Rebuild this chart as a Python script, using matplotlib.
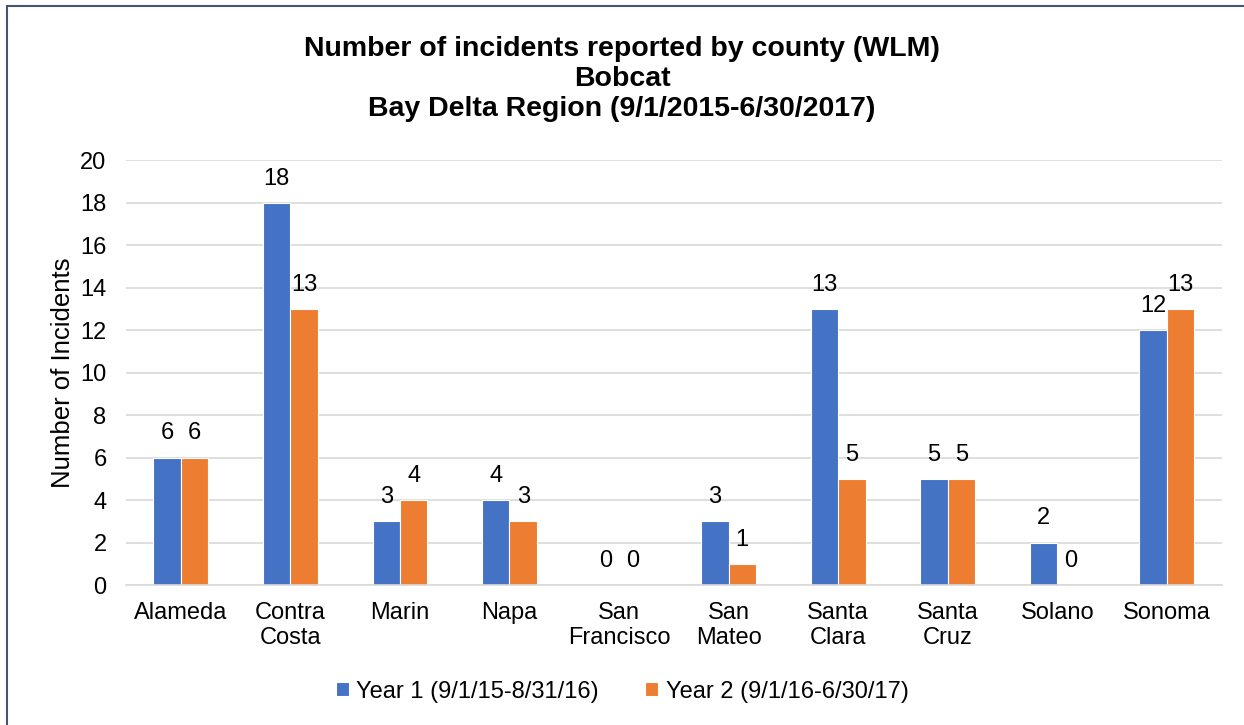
import numpy as np
import matplotlib
matplotlib.use("Agg")
import matplotlib.pyplot as plt
from matplotlib.patches import Rectangle

plt.rcParams['font.family'] = ['Liberation Sans', 'DejaVu Sans']

counties = ['Alameda', 'Contra\nCosta', 'Marin', 'Napa', 'San\nFrancisco',
            'San\nMateo', 'Santa\nClara', 'Santa\nCruz', 'Solano', 'Sonoma']
year1 = [6, 18, 3, 4, 0, 3, 13, 5, 2, 12]
year2 = [6, 13, 4, 3, 0, 1, 5, 5, 0, 13]
label1 = 'Year 1 (9/1/15-8/31/16)'
label2 = 'Year 2 (9/1/16-6/30/17)'

blue = '#4472C4'
orange = '#ED7D31'

fig = plt.figure(figsize=(12.44, 7.25), dpi=100)
ax = fig.add_axes([0.1013, 0.193, 0.8807, 0.586])

x = np.arange(len(counties))
w = 0.25
b1 = ax.bar(x - w / 2, year1, w, color=blue, edgecolor='white', linewidth=0.8, label=label1)
b2 = ax.bar(x + w / 2, year2, w, color=orange, edgecolor='white', linewidth=0.8, label=label2)

for bars in (b1, b2):
    for r in bars:
        h = r.get_height()
        ax.annotate(f'{int(h)}', (r.get_x() + r.get_width() / 2, h),
                    xytext=(0, 9.5), textcoords='offset points',
                    ha='center', va='bottom', fontsize=17)

ax.set_xlim(-0.5, len(counties) - 0.5)
ax.set_ylim(0, 20)
ax.set_yticks(range(0, 21, 2))
ax.set_xticks(x)
ax.set_xticklabels(counties, fontsize=17, linespacing=1.2)
ax.tick_params(axis='y', labelsize=17, length=0, pad=14)
ax.tick_params(axis='x', length=0, pad=12)
ax.yaxis.grid(True, color='#d9d9d9', linewidth=1.2)
ax.set_axisbelow(True)
for s in ['top', 'right', 'left']:
    ax.spines[s].set_visible(False)
ax.spines['bottom'].set_color('#d9d9d9')
ax.spines['bottom'].set_linewidth(1.2)
ax.set_ylabel('Number of Incidents', fontsize=18.5, labelpad=4)

fig.text(0.5, 0.951, 'Number of incidents reported by county (WLM)\nBobcat\nBay Delta Region (9/1/2015-6/30/2017)',
         ha='center', va='top', fontsize=20.5, fontweight='bold', linespacing=1.2)

fig.legend(handles=[b1, b2], loc='center', bbox_to_anchor=(0.5, 0.046), ncol=2,
           frameon=False, fontsize=17, handlelength=0.55, handleheight=0.55,
           handletextpad=0.3, columnspacing=2.0)

fig.patches.append(Rectangle((0.0058, -0.01), 1.0, 1.002, transform=fig.transFigure,
                             fill=False, edgecolor='#44546A', linewidth=1.5))

fig.savefig('out.png', dpi=100)
